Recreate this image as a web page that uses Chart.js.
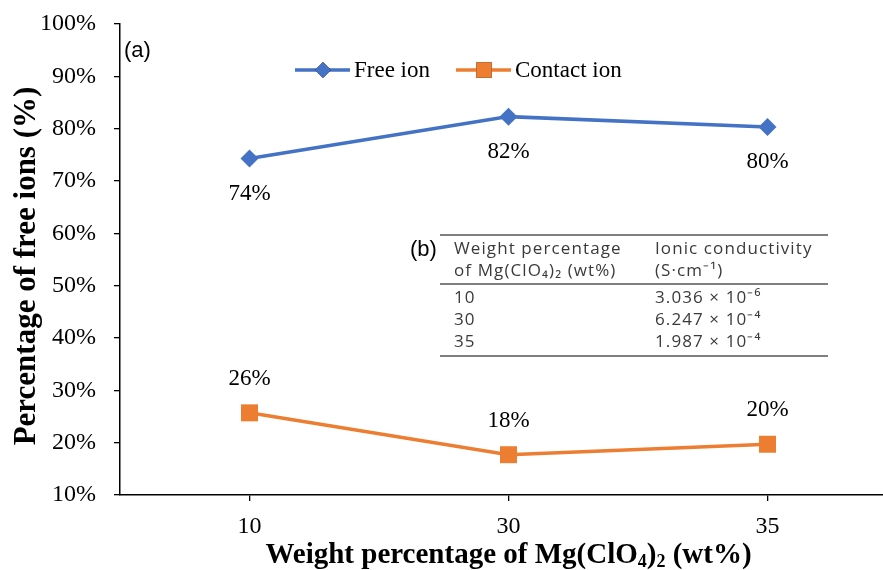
<!DOCTYPE html>
<html>
<head>
<meta charset="utf-8">
<script src="https://cdn.jsdelivr.net/npm/chart.js@4.4.1/dist/chart.umd.min.js"></script>
<style>
  html, body { margin: 0; padding: 0; background: #fff; overflow: hidden; }
</style>
</head>
<body>
<canvas id="ionChart" width="909" height="570"></canvas>
<script>
// values
const categories = ['10', '30', '35'];
const freeIon = [74.3, 82.3, 80.3];
const contactIon = [25.7, 17.7, 19.7];
const seriesNames = ['Free ion', 'Contact ion'];

// inset table (b)
const tableHead1 = ['Weight percentage', 'of Mg(ClO\u2084)\u2082 (wt%)'];
const tableHead2 = ['Ionic conductivity', '(S\u00b7cm\u207b\u00b9)'];
const tableWt = ['10', '30', '35'];
const tableSigma = ['3.036 \u00d7 10\u207b\u2076', '6.247 \u00d7 10\u207b\u2074', '1.987 \u00d7 10\u207b\u2074'];

// axis titles; x title pieces: [text, isSubscript]
const yTitleText = 'Percentage of free ions (%)';
const xTitleParts = [['Weight percentage of Mg(ClO', false], ['4', true], [')', false], ['2', true], [' (wt%)', false]];

const serif = '"Liberation Serif", "Times New Roman", serif';
const sans = '"Open Sans", "Liberation Sans", sans-serif';
const blue = '#4472C4';
const orange = '#ED7D31';

// value labels: below the blue points, above the orange ones
const valueLabels = {
  id: 'valueLabels',
  afterDatasetsDraw(chart) {
    const ctx = chart.ctx;
    ctx.save();
    ctx.font = '23px ' + serif;
    ctx.fillStyle = '#000';
    ctx.textAlign = 'center';
    ctx.textBaseline = 'middle';
    chart.data.datasets.forEach((ds, i) => {
      const meta = chart.getDatasetMeta(i);
      meta.data.forEach((pt, j) => {
        ctx.fillText(Math.round(ds.data[j]) + '%', pt.x, pt.y + ds.labelShift);
      });
    });
    ctx.restore();
  }
};

// legend drawn inside the plot, line + marker like the original
const lineLegend = {
  id: 'lineLegend',
  afterDraw(chart) {
    const ctx = chart.ctx;
    const y = 70;
    const items = [
      { x: 295, ds: chart.data.datasets[0] },
      { x: 456, ds: chart.data.datasets[1] }
    ];
    ctx.save();
    items.forEach(it => {
      ctx.strokeStyle = it.ds.borderColor;
      ctx.lineWidth = it.ds.borderWidth;
      ctx.beginPath();
      ctx.moveTo(it.x, y);
      ctx.lineTo(it.x + 55, y);
      ctx.stroke();
      Chart.helpers.drawPoint(ctx, {
        pointStyle: it.ds.pointStyle,
        radius: it.ds.pointRadius - 1,
        rotation: 0,
        borderWidth: 0
      }, it.x + 28, y);
      ctx.fillStyle = it.ds.borderColor;
      ctx.fill();
      ctx.fillStyle = '#000';
      ctx.font = '23px ' + serif;
      ctx.textAlign = 'left';
      ctx.textBaseline = 'middle';
      ctx.fillText(it.ds.label, it.x + 59, y + 1);
    });
    ctx.restore();
  }
};

// axis titles (x title needs real subscripts)
const axisTitles = {
  id: 'axisTitles',
  afterDraw(chart) {
    const ctx = chart.ctx;
    const area = chart.chartArea;
    const big = 'bold 29px ' + serif;
    const small = 'bold 18px ' + serif;
    ctx.save();
    ctx.fillStyle = '#000';
    ctx.textBaseline = 'alphabetic';
    ctx.textAlign = 'left';
    let total = 0;
    xTitleParts.forEach(p => { ctx.font = p[1] ? small : big; total += ctx.measureText(p[0]).width; });
    let x = (area.left + area.right) / 2 - total / 2;
    const base = 563;
    xTitleParts.forEach(p => {
      ctx.font = p[1] ? small : big;
      ctx.fillText(p[0], x, p[1] ? base + 4 : base);
      x += ctx.measureText(p[0]).width;
    });

    ctx.translate(27, 266);
    ctx.rotate(-Math.PI / 2);
    ctx.font = 'bold 31px ' + serif;
    ctx.textAlign = 'center';
    ctx.textBaseline = 'middle';
    ctx.fillText(yTitleText, 0, 0);
    ctx.restore();
  }
};

// panel letters and the conductivity table
const insetTable = {
  id: 'insetTable',
  afterDraw(chart) {
    const ctx = chart.ctx;
    ctx.save();
    ctx.fillStyle = '#000';
    ctx.textBaseline = 'middle';
    ctx.textAlign = 'left';
    ctx.font = '22px "Liberation Sans", sans-serif';
    ctx.fillText('(a)', 124, 51);
    ctx.fillText('(b)', 410, 250);

    const x0 = 440, x1 = 828, c1 = 454, c2 = 655;
    ctx.strokeStyle = '#000';
    ctx.lineWidth = 1.2;
    [235, 284, 356].forEach(yy => {
      ctx.beginPath();
      ctx.moveTo(x0, yy);
      ctx.lineTo(x1, yy);
      ctx.stroke();
    });

    ctx.fillStyle = '#3a3a3a';
    ctx.font = '17px ' + sans;
    ctx.letterSpacing = '1.1px';
    ctx.fillText(tableHead1[0], c1, 249);
    ctx.fillText(tableHead1[1], c1, 271);
    ctx.fillText(tableHead2[0], c2, 249);
    ctx.fillText(tableHead2[1], c2, 271);
    const rowsY = [298, 320, 342];
    tableWt.forEach((w, i) => {
      ctx.fillText(w, c1, rowsY[i]);
      ctx.fillText(tableSigma[i], c2, rowsY[i]);
    });
    ctx.restore();
  }
};

const ctx = document.getElementById('ionChart').getContext('2d');
const ionChart = new Chart(ctx, {
  type: 'line',
  data: {
    labels: categories,
    datasets: [{
      label: seriesNames[0],
      data: freeIon,
      borderColor: blue,
      backgroundColor: blue,
      borderWidth: 3.5,
      pointStyle: 'rectRot',
      pointRadius: 9,
      pointHoverRadius: 9,
      pointBorderWidth: 0,
      labelShift: 35
    }, {
      label: seriesNames[1],
      data: contactIon,
      borderColor: orange,
      backgroundColor: orange,
      borderWidth: 3.5,
      pointStyle: 'rect',
      pointRadius: 12,
      pointHoverRadius: 12,
      pointBorderWidth: 0,
      labelShift: -34
    }]
  },
  options: {
    responsive: false,
    animation: false,
    layout: { padding: { top: 24, right: 5, left: 0, bottom: 0 } },
    plugins: {
      legend: { display: false },
      tooltip: { enabled: false }
    },
    scales: {
      x: {
        offset: true,
        grid: { offset: false, drawOnChartArea: false, tickLength: 6, color: '#000', lineWidth: 1.3 },
        border: { color: '#000', width: 1.5 },
        ticks: { color: '#000', font: { family: serif, size: 24 }, padding: 11 },
        afterFit: s => { s.height = 75; s.paddingLeft = 0; s.paddingRight = 0; }
      },
      y: {
        min: 10,
        max: 100,
        grid: { drawOnChartArea: false, tickLength: 6, color: '#000', lineWidth: 1.3 },
        border: { color: '#000', width: 1.5 },
        ticks: {
          stepSize: 10,
          color: '#000',
          font: { family: serif, size: 24 },
          padding: 18,
          callback: v => v + '%'
        },
        afterFit: s => { s.width = 120; s.paddingTop = 0; s.paddingBottom = 0; }
      }
    }
  },
  plugins: [valueLabels, lineLegend, axisTitles, insetTable]
});
</script>
</body>
</html>
